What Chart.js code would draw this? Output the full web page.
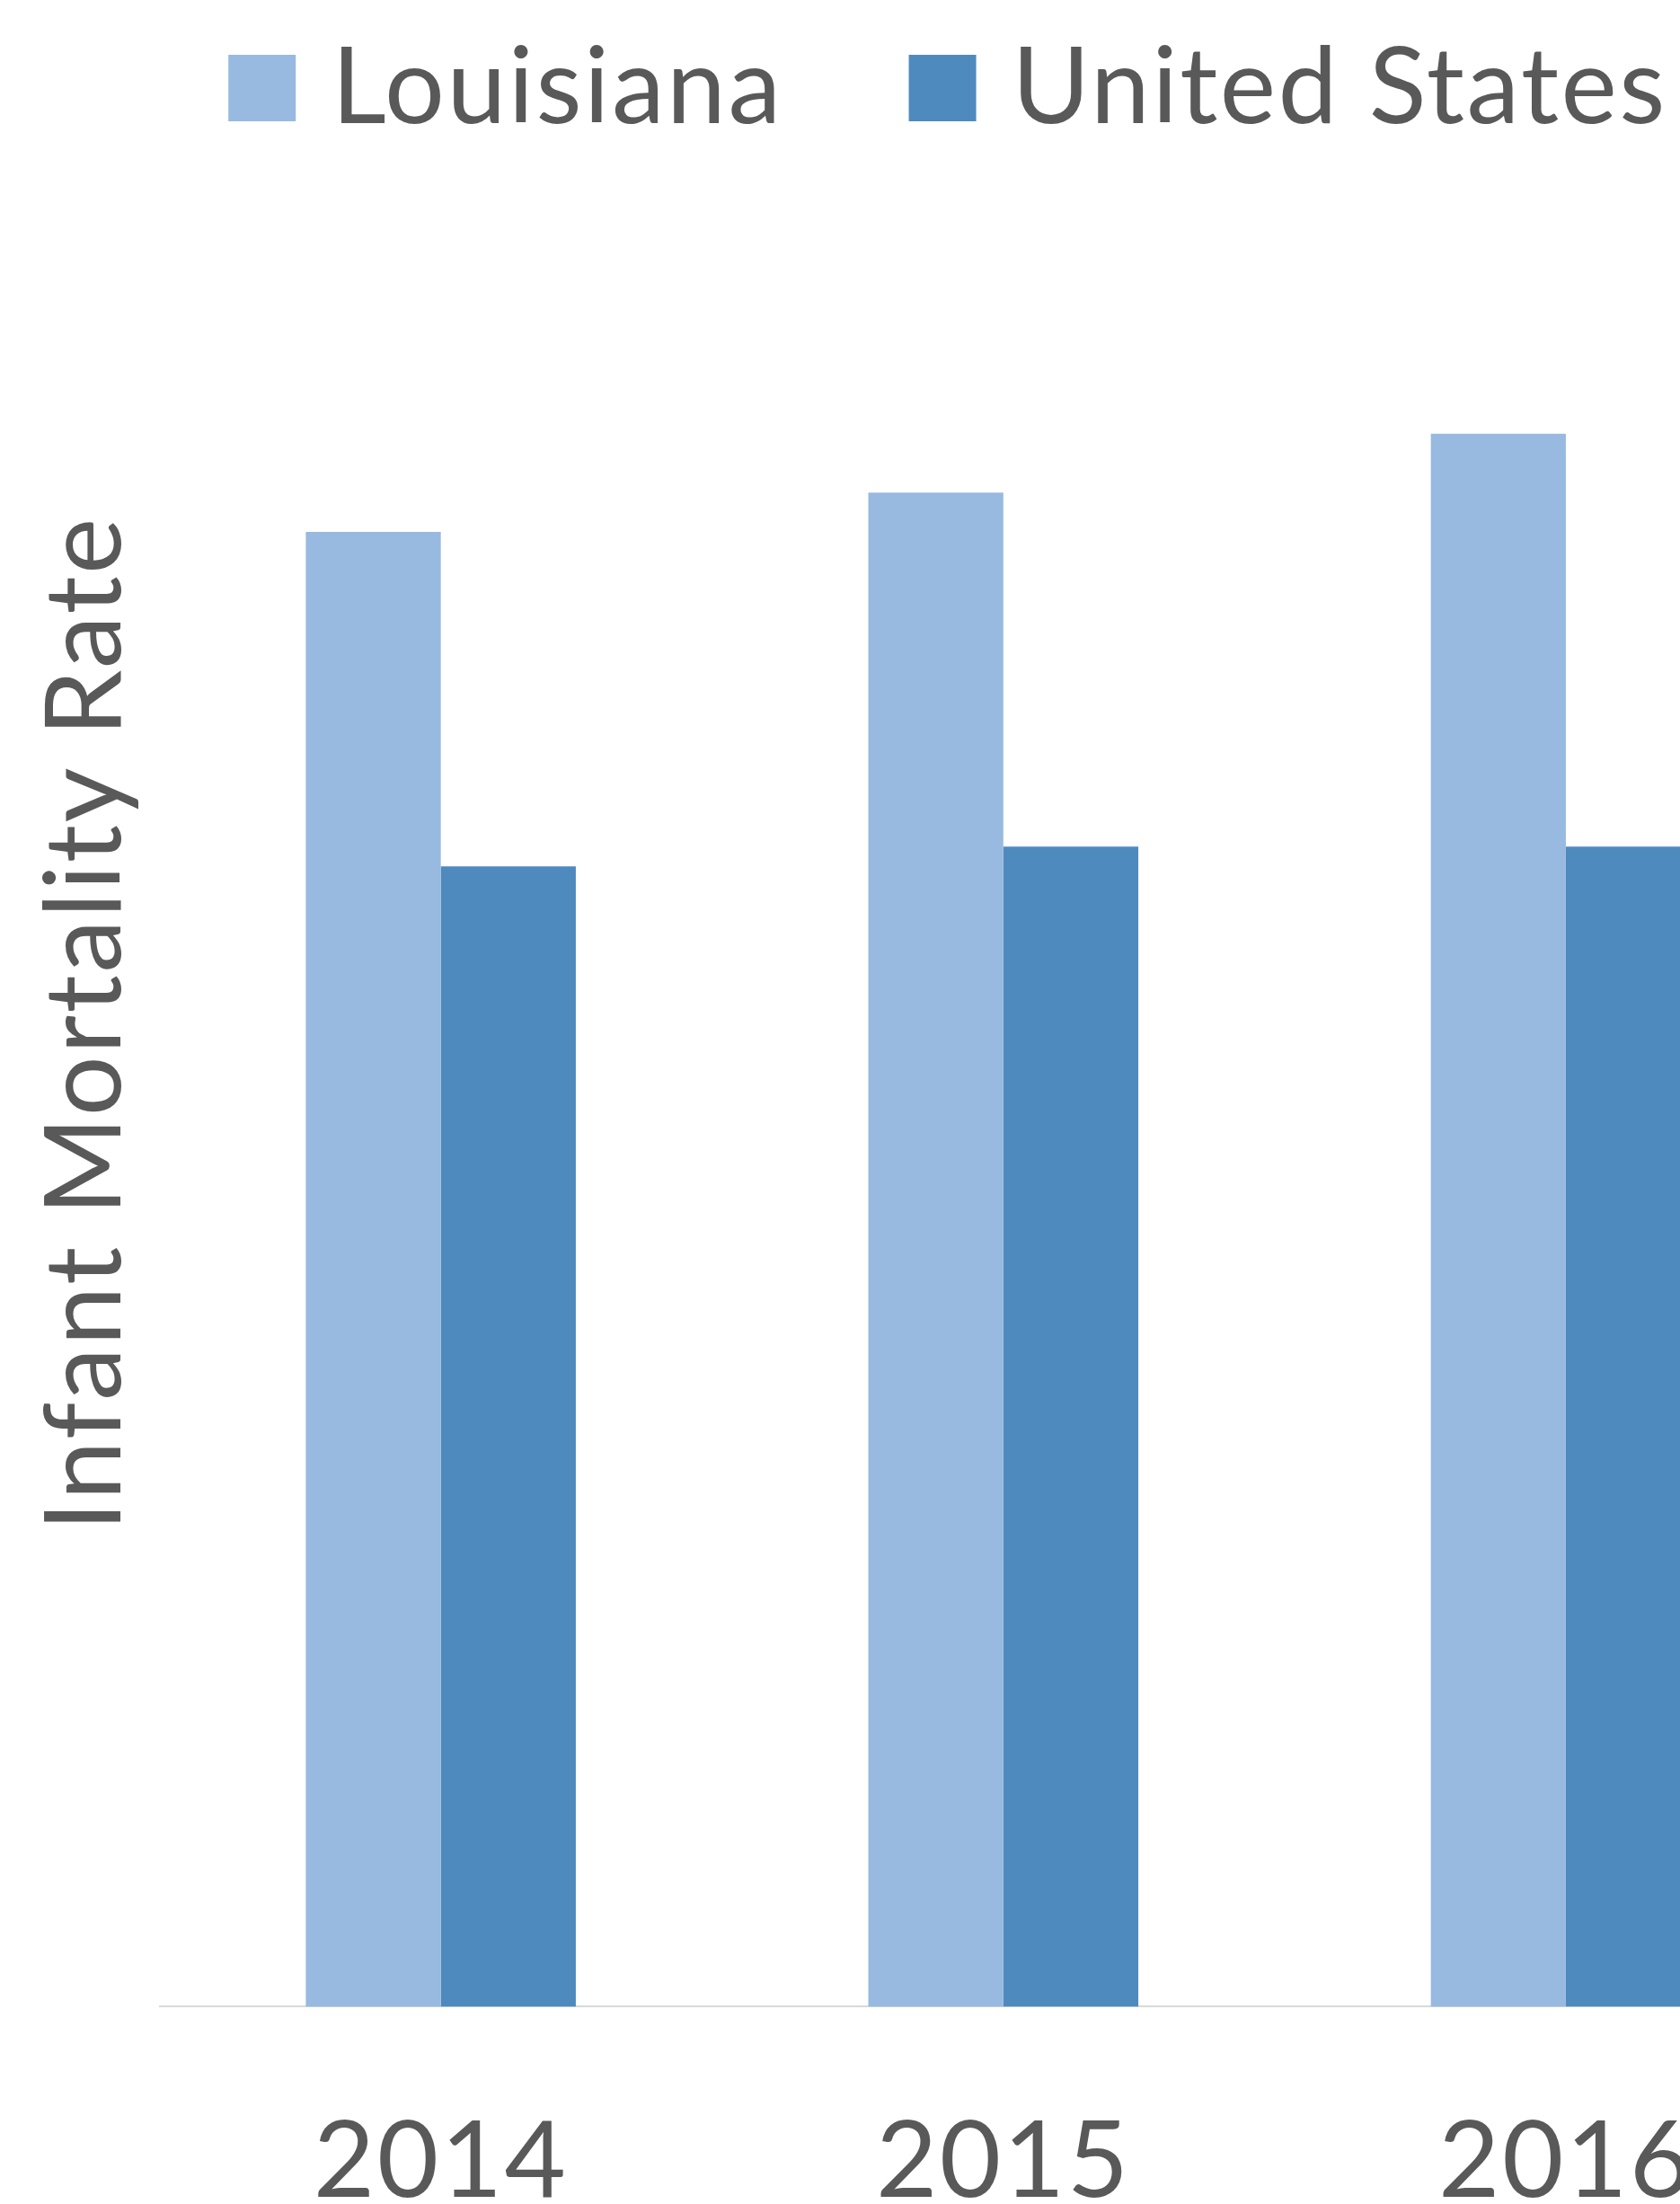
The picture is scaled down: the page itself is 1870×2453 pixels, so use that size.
<!DOCTYPE html>
<html>
<head>
<meta charset="utf-8">
<script src="https://cdn.jsdelivr.net/npm/chart.js@4.4.1/dist/chart.umd.min.js"></script>
<style>
  html, body { margin: 0; padding: 0; background: #fff; overflow: hidden; }
  #wrap { width: 2110px; height: 2590px; }
</style>
</head>
<body>
<div id="wrap"><canvas id="imrChart" width="2110" height="2590"></canvas></div>
<script>
// Infant mortality rate, Louisiana vs. United States
const years = ['2014', '2015', '2016'];
const louisianaRates = [7.5, 7.7, 8.0];
const usRates = [5.8, 5.9, 5.9];
const seriesNames = ['Louisiana', 'United States'];
const seriesColors = ['#98b9e0', '#4f8abe'];

const textColor = '#595959';
const fontFamily = 'Lato, Carlito, Calibri, sans-serif';
const bigFont = 118;
const spacing = '2.5px';

// Lato runs a bit narrow, open the letters up a little
const letterSpacing = {
    id: 'letterSpacing',
    beforeDraw(chart) {
        chart.ctx.letterSpacing = spacing;
    }
};

// Legend row sits above the plot area instead of taking layout space
const topLegend = {
    id: 'topLegend',
    afterDraw(chart) {
        const ctx = chart.ctx;
        const boxW = 75, boxH = 74, boxGap = 40, itemGap = 140;
        const boxTop = 61, baseline = 137;
        ctx.save();
        ctx.letterSpacing = spacing;
        ctx.font = bigFont + 'px ' + fontFamily;
        ctx.textAlign = 'left';
        ctx.textBaseline = 'alphabetic';
        const items = chart.data.datasets.map(ds => ({
            label: ds.label,
            color: ds.backgroundColor,
            w: ctx.measureText(ds.label).width
        }));
        const total = items.reduce((s, it) => s + boxW + boxGap + it.w, 0) + itemGap * (items.length - 1);
        let x = chart.width / 2 - total / 2;
        items.forEach(it => {
            ctx.fillStyle = it.color;
            ctx.fillRect(x, boxTop, boxW, boxH);
            ctx.fillStyle = textColor;
            ctx.fillText(it.label, x + boxW + boxGap, baseline);
            x += boxW + boxGap + it.w + itemGap;
        });
        ctx.restore();
    }
};

const ctx = document.getElementById('imrChart');

new Chart(ctx, {
    type: 'bar',
    data: {
        labels: years,
        datasets: [{
            label: seriesNames[0],
            data: louisianaRates,
            backgroundColor: seriesColors[0]
        }, {
            label: seriesNames[1],
            data: usRates,
            backgroundColor: seriesColors[1]
        }]
    },
    plugins: [letterSpacing, topLegend],
    options: {
        responsive: false,
        animation: false,
        layout: {
            padding: { top: 45, right: 54, bottom: 9, left: 0 }
        },
        datasets: {
            bar: {
                categoryPercentage: 0.48,
                barPercentage: 1.0
            }
        },
        plugins: {
            legend: { display: false },
            tooltip: { enabled: false }
        },
        scales: {
            x: {
                grid: { display: false, drawTicks: false },
                border: { display: true, color: '#d9d9d9', width: 2 },
                ticks: {
                    color: textColor,
                    padding: 103,
                    font: { family: fontFamily, size: bigFont }
                }
            },
            y: {
                min: 0,
                max: 10,
                grid: { display: false, drawTicks: false },
                border: { display: false },
                ticks: { display: false },
                title: {
                    display: true,
                    text: 'Infant Mortality Rate',
                    color: textColor,
                    font: { family: fontFamily, size: bigFont },
                    padding: { top: 25, bottom: 11 }
                }
            }
        }
    }
});
</script>
</body>
</html>
